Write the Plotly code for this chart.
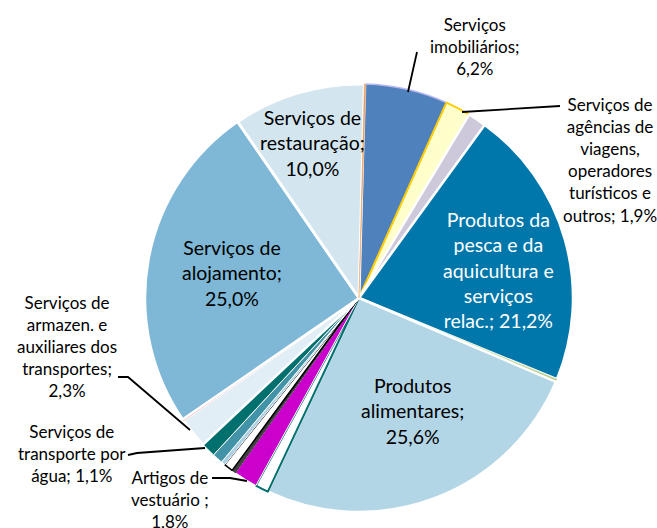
import plotly.graph_objects as go

W, H = 657, 528

# ---- data (clockwise from 12 o'clock) ----
slice_names = [
    "Serviços imobiliários", "Serviços de agências de viagens, operadores turísticos e outros",
    "Outros a", "Produtos da pesca e da aquicultura e serviços relac.", "Outros b",
    "Produtos alimentares", "Outros c", "Artigos de vestuário", "Outros d", "Outros e",
    "Outros f", "Outros g", "Serviços de transporte por água",
    "Serviços de armazen. e auxiliares dos transportes", "Outros h",
    "Serviços de alojamento", "Serviços de restauração", "Outros i",
]
slice_values = [6.2, 1.9, 1.4, 21.2, 0.2, 25.6, 1.0, 1.8, 0.3, 0.7, 0.3, 0.8, 1.1, 2.3, 0.1, 25.0, 10.0, 0.1]
slice_colors = ["#4F81BD", "#FFFFCC", "#CDC9DA", "#0077AA", "#9BBB59", "#B3D6E6", "#FFFFFF", "#CC00CC",
                "#404040", "#FFFFFF", "#A9D0E6", "#4393A8", "#00706E", "#E1EEF5", "#E06666",
                "#7FB8D6", "#D3E6F0", "#E9A060"]
line_colors = ["#B8B8F0", "#FFCC00", "#FFFFFF", "#FFFFFF", "#D8E4BC", "#FFFFFF", "#00706E", "#FFFFFF",
               "#404040", "#000000", "#FFFFFF", "#FFFFFF", "#FFFFFF", "#FFFFFF", "#E06666",
               "#FFFFFF", "#FFFFFF", "#E9A060"]
line_widths = [1.5, 2, 2.5, 2.5, 1, 2.5, 2, 1, 1, 1.5, 1, 1, 1, 2.5, 0.5, 2.5, 3, 0.5]

# labelled slices: (slice index, template, text colour, size class)
label_specs = [
    (0, "Serviços<br>imobiliários;<br>{v}", "#000000", "s"),
    (1, "Serviços de<br>agências de<br>viagens,<br>operadores<br>turísticos e<br>outros; {v}", "#000000", "s"),
    (3, "Produtos da<br>pesca e da<br>aquicultura e<br>serviços<br>relac.; {v}", "#FFFFFF", "l"),
    (5, "Produtos<br>alimentares;<br>{v}", "#000000", "l"),
    (7, "Artigos de<br>vestuário ;<br>{v}", "#000000", "s"),
    (12, "Serviços de<br>transporte por<br>água; {v}", "#000000", "s"),
    (13, "Serviços de<br>armazen. e<br>auxiliares dos<br>transportes;<br>{v}", "#000000", "s"),
    (15, "Serviços de<br>alojamento;<br>{v}", "#000000", "l"),
    (16, "Serviços de<br>restauração;<br>{v}", "#000000", "l"),
]
# label centres in pixels
label_pos = [(475, 47), (610, 160), (498, 270), (412, 411), (170, 499),
             (72, 453), (67, 346), (232, 273), (312, 143)]

# leader lines (pixel paths)
leaders = [
    [(417, 52), (408, 92)],
    [(462, 112), (560, 106)],
    [(118, 377), (128, 377), (190, 430)],
    [(128, 455), (137, 453), (205, 448)],
    [(212, 478), (230, 478), (247, 481)],
]

cx, cy, r = 359, 298, 214

def px(x):
    return x / W

def py(y):
    return 1 - y / H

fig = go.Figure(go.Pie(
    labels=slice_names,
    values=slice_values,
    sort=False,
    direction="clockwise",
    rotation=1.8,
    textinfo="none",
    hoverinfo="label+percent",
    marker=dict(colors=slice_colors, line=dict(color=line_colors, width=line_widths)),
    domain=dict(x=[px(cx - r), px(cx + r)], y=[py(cy + r), py(cy - r)]),
    showlegend=False,
))

annotations = []
for (idx, tmpl, col, size), (x, y) in zip(label_specs, label_pos):
    v = f"{slice_values[idx]:.1f}%".replace(".", ",")
    annotations.append(dict(
        x=px(x), y=py(y), xref="paper", yref="paper",
        text=tmpl.format(v=v), showarrow=False,
        xanchor="center", yanchor="middle", align="center",
        font=dict(family="Lato", size=19.5 if size == "l" else 17, color=col),
    ))

shapes = []
for pts in leaders:
    path = "M " + " L ".join(f"{px(x)},{py(y)}" for x, y in pts)
    shapes.append(dict(type="path", xref="paper", yref="paper", path=path,
                       line=dict(color="#000000", width=1.8)))

fig.update_layout(
    width=W, height=H,
    margin=dict(l=0, r=0, t=0, b=0),
    paper_bgcolor="#FFFFFF", plot_bgcolor="#FFFFFF",
    annotations=annotations, shapes=shapes,
)

fig.write_html("out.html", config={"displayModeBar": False},
               post_script="document.body.style.margin='0';document.body.style.overflow='hidden';")
